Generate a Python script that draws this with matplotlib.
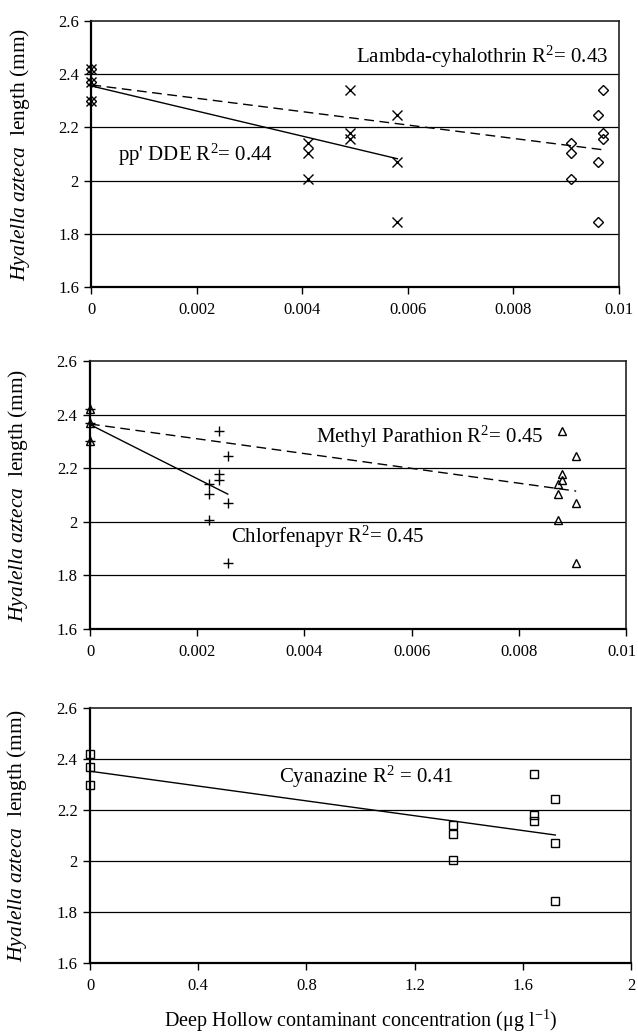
import matplotlib
matplotlib.use('Agg')
import matplotlib.pyplot as plt
import matplotlib.transforms as mtransforms
import numpy as np
from matplotlib.ticker import FuncFormatter

plt.rcParams['font.family'] = ['Liberation Serif', 'DejaVu Serif']
plt.rcParams['mathtext.fontset'] = 'custom'
plt.rcParams['mathtext.rm'] = 'Liberation Serif'
plt.rcParams['mathtext.it'] = 'Liberation Serif:italic'

# Lengths (mm): 3 controls, then 3 replicates per site
length_vals = [2.42, 2.37, 2.30,
               2.14, 2.105, 2.005,
               2.34, 2.18, 2.155,
               2.245, 2.07, 1.845]

# Panel 1
dde_conc = [0, 0, 0, 0.0041, 0.0041, 0.0041, 0.0049, 0.0049, 0.0049, 0.0058, 0.0058, 0.0058]
lambda_conc = [0, 0, 0, 0.0091, 0.0091, 0.0091, 0.0097, 0.0097, 0.0097, 0.0096, 0.0096, 0.0096]
# Panel 2
chlorf_conc = [0, 0, 0, 0.00222, 0.00222, 0.00222, 0.0024, 0.0024, 0.0024, 0.00257, 0.00257, 0.00257]
methyl_conc = [0, 0, 0, 0.00874, 0.00874, 0.00874, 0.0088, 0.0088, 0.0088, 0.00907, 0.00907, 0.00907]
# Panel 3
cyan_conc = [0, 0, 0, 1.34, 1.34, 1.34, 1.64, 1.64, 1.64, 1.72, 1.72, 1.72]

y_ticks = [1.6, 1.8, 2.0, 2.2, 2.4, 2.6]
x_ticks_small = [0, 0.002, 0.004, 0.006, 0.008, 0.01]
x_ticks_cyan = [0, 0.4, 0.8, 1.2, 1.6, 2]

ylabel = r'$\mathit{Hyalella\ azteca}$  length (mm)'
xlabel = r'Deep Hollow contaminant concentration ($\mathregular{\mu}$g l$^{\mathregular{-1}}$)'

fig = plt.figure(figsize=(6.38, 10.35), dpi=100)

ax1 = fig.add_axes([0.1434, 0.7227, 0.8266, 0.2570])
ax2 = fig.add_axes([0.1411, 0.3923, 0.8401, 0.2589])
ax3 = fig.add_axes([0.1411, 0.0696, 0.8480, 0.2463])


def trend(ax, x, y, style):
    x = np.array(x)
    k, b = np.polyfit(x, y, 1)
    xs = np.array([0, x.max()])
    ax.plot(xs, k * xs + b, color='black', lw=1.0, linestyle=style, zorder=3)


def fmt_g(v, pos):
    return '%g' % round(v, 4)


def setup(ax, xticks):
    ax.set_ylim(1.6, 2.6)
    ax.set_xlim(xticks[0], xticks[-1])
    ax.set_yticks(y_ticks)
    ax.set_xticks(xticks)
    ax.yaxis.set_major_formatter(FuncFormatter(fmt_g))
    ax.xaxis.set_major_formatter(FuncFormatter(fmt_g))
    for v in y_ticks[1:-1]:
        ax.axhline(v, color='black', lw=0.9, zorder=1)
    ax.tick_params(direction='out', length=5, width=1, labelsize=12, pad=4)
    ax.tick_params(axis='x', pad=6)
    for s in ['left', 'bottom']:
        ax.spines[s].set_linewidth(1.6)
    for s in ['top', 'right']:
        ax.spines[s].set_linewidth(1.2)
        ax.spines[s].set_color('#222222')
    ax.set_ylabel(ylabel, fontsize=15.5)
    ax.yaxis.set_label_coords(-0.112, 0.5)


mk = dict(color='black', linestyle='none', zorder=5, clip_on=False)

# Panel 1: pp' DDE and Lambda-cyhalothrin
setup(ax1, x_ticks_small)
ax1.plot(dde_conc, length_vals, marker='x', ms=6.5, mew=1.0, **mk)
ax1.plot(lambda_conc, length_vals, marker='D', ms=4.8, mfc='none', mew=1.0, **mk)
trend(ax1, dde_conc, length_vals, '-')
trend(ax1, lambda_conc, length_vals, (0, (7, 4)))
ax1.text(0.00979, 2.466, r'Lambda-cyhalothrin R$^{\mathregular{2}}$= 0.43', fontsize=15, ha='right', va='center')
ax1.text(0.0005, 2.098, r"pp' DDE R$^{\mathregular{2}}$= 0.44", fontsize=15, ha='left', va='center')

# Panel 2: Chlorfenapyr and Methyl Parathion
setup(ax2, x_ticks_small)
ax2.plot(chlorf_conc, length_vals, marker='+', ms=7.5, mew=1.0, **mk)
ax2.plot(methyl_conc, length_vals, marker='^', ms=5.5, mfc='none', mew=1.0, **mk)
trend(ax2, chlorf_conc, length_vals, '-')
trend(ax2, methyl_conc, length_vals, (0, (7, 4)))
ax2.text(0.00422, 2.316, r'Methyl Parathion R$^{\mathregular{2}}$= 0.45', fontsize=15, ha='left', va='center')
ax2.text(0.00263, 1.943, r'Chlorfenapyr R$^{\mathregular{2}}$= 0.45', fontsize=15, ha='left', va='center')
# nudge the last tick label so it stays inside the figure
last = ax2.get_xticklabels()[-1]
last.set_transform(last.get_transform() + mtransforms.ScaledTranslation(-3 / 72, 0, fig.dpi_scale_trans))

# Panel 3: Cyanazine
setup(ax3, x_ticks_cyan)
ax3.plot(cyan_conc, length_vals, marker='s', ms=5.5, mfc='none', mew=1.0, **mk)
trend(ax3, cyan_conc, length_vals, '-')
ax3.text(0.70, 2.33, r'Cyanazine R$^{\mathregular{2}}$ = 0.41', fontsize=15, ha='left', va='center')
ax3.set_xlabel(xlabel, fontsize=14.5, labelpad=10)

fig.savefig('out.png', dpi=100)
